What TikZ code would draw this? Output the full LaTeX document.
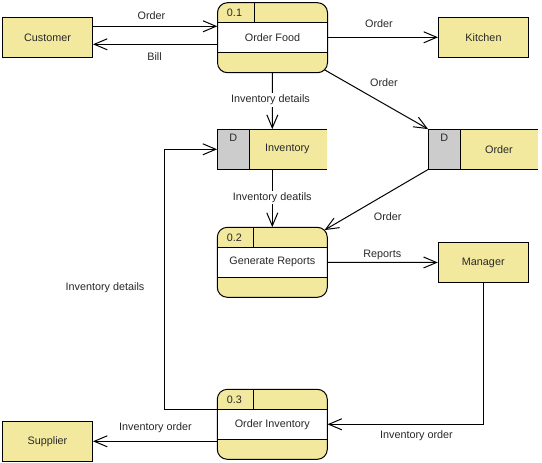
\documentclass[tikz,border=0pt]{standalone}
\usepackage{fontspec}
\setmainfont{Liberation Sans}
\usetikzlibrary{arrows.meta,calc}
\definecolor{yel}{RGB}{242,233,158}
\definecolor{gry}{RGB}{204,204,204}
\definecolor{txtc}{RGB}{40,40,40}
\tikzset{
  txt/.style={inner sep=0pt,text=txtc,font=\fontsize{10.8}{13}\selectfont},
  wlbl/.style={txt,fill=white,inner sep=1.5pt},
  entity/.style={draw=black,line width=1pt,fill=yel,minimum width=90pt,minimum height=40pt,inner sep=0pt,text=txtc,font=\fontsize{10.8}{13}\selectfont},
  procbox/.style={fill=yel,minimum width=110pt,minimum height=70pt,inner sep=0pt,rounded corners=10pt},
  storebox/.style={fill=yel,minimum width=110pt,minimum height=40pt,inner sep=0pt},
  arr/.style={draw=black,line width=1pt,-{Straight Barb[length=13pt,width=11pt,line width=1pt]}},
  ln/.style={draw=black,line width=1pt}
}
\newcommand\procshape[5]{%
  \node[procbox] (#1) at (#2,#3) {};
  \fill[white] ({#2-55},{#3-15}) rectangle ({#2+55},{#3+15});
  \draw[ln] ({#2-55},{#3-15}) -- ({#2+55},{#3-15}) ({#2-55},{#3+15}) -- ({#2+55},{#3+15}) ({#2-18.5},{#3-35}) -- ({#2-18.5},{#3-15});
  \draw[ln,rounded corners=10pt] ({#2-55},{#3-35}) rectangle ({#2+55},{#3+35});
  \node[txt] (#1-lbl) at (#2,#3) {#5};
  \node[txt] (#1-id) at ({#2-38},{#3-25}) {#4};
}
\newcommand\storeshape[5]{%
  \node[storebox] (#1) at (#2,#3) {};
  \fill[gry] ({#2-55},{#3-20}) rectangle ({#2-22.6},{#3+20});
  \draw[ln] ({#2+55},{#3-20}) -- ({#2-55},{#3-20}) -- ({#2-55},{#3+20}) -- ({#2+55},{#3+20});
  \draw[ln] ({#2-22.6},{#3-20}) -- ({#2-22.6},{#3+20});
  \node[txt] (#1-d) at ({#2-39},{#3-12}) {D};
  \node[txt] (#1-lbl) at ({#2+#5},#3) {#4};
}
\begin{document}
\begin{tikzpicture}[x=1pt,y=-1pt]
\useasboundingbox (0,0) rectangle (542,463);
% entities
\node[entity] (cust) at (47.5,37.3) {Customer};
\node[entity] (kit) at (483.5,37.3) {Kitchen};
\node[entity] (mgr) at (483.3,262.5) {Manager};
\node[entity] (sup) at (47.5,441.3) {Supplier};
% processes
\procshape{p1}{272.5}{37.7}{0.1}{Order Food}
\procshape{p2}{272.3}{262.3}{0.2}{Generate Reports}
\procshape{p3}{272.3}{424.3}{0.3}{Order Inventory}
% data stores
\storeshape{is}{272.3}{149.3}{Inventory}{15}
\storeshape{os}{483.3}{149.3}{Order}{15.7}
% connectors
\draw[arr] ([yshift=11pt]cust.east) -- ([yshift=11pt]cust.east -| p1.west);
\node[txt] (l1) at (151.5,16) {Order};
\draw[arr] ([yshift=-7pt]cust.east -| p1.west) -- ([yshift=-7pt]cust.east);
\node[txt] (l2) at (154.5,56.5) {Bill};
\draw[arr] (p1.east |- kit.west) -- (kit.west);
\node[txt] (l3) at (379,24) {Order};
\draw[arr] ([xshift=-3pt,yshift=3pt]p1.south east) -- (os.north west);
\node[txt] (l4) at (384,83) {Order};
\draw[arr] (p1.south) -- (is.north);
\node[wlbl] (l5) at (270.5,100) {Inventory details};
\draw[arr] (is.south) -- (p2.north);
\node[wlbl] (l6) at (272.3,197.3) {Inventory deatils};
\draw[arr] (os.south west) -- ([xshift=-3pt,yshift=-3pt]p2.north east);
\node[txt] (l7) at (387.7,217) {Order};
\draw[arr] (p2.east) -- (mgr.west);
\node[txt] (l8) at (382.3,255) {Reports};
\draw[arr] (mgr.south) |- (p3.east);
\node[txt] (l9) at (416.5,436) {Inventory order};
\draw[arr] (sup.east -| p3.west) -- (sup.east);
\node[txt] (l10) at (155.5,428) {Inventory order};
\coordinate (lp) at (164,409.3);
\draw[arr] ([yshift=15pt]p3.west) -- (lp) |- (is.west);
\node[txt] (l11) at (105,287.3) {Inventory details};
\end{tikzpicture}
\end{document}
